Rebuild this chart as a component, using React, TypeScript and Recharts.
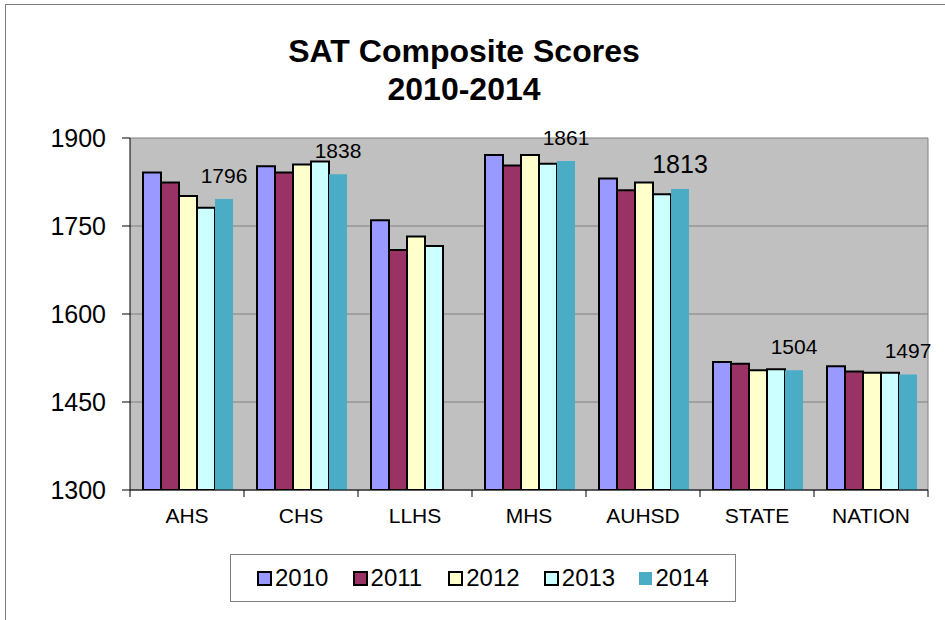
import { BarChart, Bar, XAxis, YAxis, CartesianGrid, Legend, LabelList } from 'recharts'

const schools = ['AHS', 'CHS', 'LLHS', 'MHS', 'AUHSD', 'STATE', 'NATION']
const years = ['2010', '2011', '2012', '2013', '2014']
const scores2010 = [1841, 1852, 1760, 1871, 1831, 1518, 1511]
const scores2011 = [1824, 1841, 1709, 1853, 1811, 1515, 1502]
const scores2012 = [1801, 1855, 1732, 1871, 1824, 1504, 1500]
const scores2013 = [1781, 1860, 1716, 1856, 1804, 1506, 1500]
const scores2014 = [1796, 1838, null, 1861, 1813, 1504, 1497]
const yTicks = [1300, 1450, 1600, 1750, 1900]

const FONT = "Arial, 'Liberation Sans', sans-serif"
const W = 945
const H = 620
const PLOT_LEFT = 130
const PLOT_RIGHT = 928

const seriesValues = [scores2010, scores2011, scores2012, scores2013, scores2014]
const seriesColors = ['#9999FF', '#993366', '#FFFFCC', '#CCFFFF', '#4BACC6']
// 2014 bars have no black outline in the original
const seriesOutlined = [true, true, true, true, false]

const data = schools.map((school, i) => {
  const row: Record<string, string | number | null> = { school }
  years.forEach((y, s) => {
    row[y] = seriesValues[s][i]
  })
  return row
})

const bandWidth = (PLOT_RIGHT - PLOT_LEFT) / schools.length

function SchoolTick(props: any) {
  const { x, y, payload, index } = props
  const left = x - bandWidth / 2
  return (
    <g>
      <line x1={left} x2={left} y1={y} y2={y + 7} stroke="#000" />
      {index === schools.length - 1 && (
        <line x1={x + bandWidth / 2} x2={x + bandWidth / 2} y1={y} y2={y + 7} stroke="#000" />
      )}
      <text x={x} y={y + 33} textAnchor="middle" fontSize={21} fontFamily={FONT} fill="#000">
        {payload.value}
      </text>
    </g>
  )
}

function ScoreLabel(props: any) {
  const { x, y, width, value } = props
  if (value == null) return null
  const cx = Number(x) + Number(width) / 2
  // which school this bar belongs to (null bars are skipped, so index is unreliable)
  const school = schools[Math.floor((cx - PLOT_LEFT) / bandWidth)]
  const big = school === 'AUHSD'
  return (
    <text
      x={cx}
      y={Number(y) - 16}
      textAnchor="middle"
      fontSize={big ? 25 : 21}
      fontFamily={FONT}
      fill="#000"
    >
      {value}
    </text>
  )
}

function YearLegend() {
  return (
    <div
      style={{
        width: '100%',
        height: '100%',
        boxSizing: 'border-box',
        border: '1px solid #808080',
        display: 'flex',
        alignItems: 'center',
        paddingLeft: 26,
        fontFamily: FONT,
        fontSize: 24,
        color: '#000',
      }}
    >
      {years.map((y, s) => (
        <div key={y} style={{ width: 97, display: 'flex', alignItems: 'center' }}>
          <span
            style={{
              display: 'inline-block',
              width: seriesOutlined[s] ? 11 : 13,
              height: seriesOutlined[s] ? 11 : 13,
              background: seriesColors[s],
              border: seriesOutlined[s] ? '2px solid #000' : 'none',
              marginRight: 3,
            }}
          />
          <span style={{ lineHeight: '24px' }}>{y}</span>
        </div>
      ))}
    </div>
  )
}

export default function App() {
  return (
    <div style={{ position: 'absolute', left: 0, top: 0, width: W, height: H, background: '#fff', overflow: 'hidden' }}>
      <div
        style={{
          position: 'absolute',
          left: 5,
          top: 4,
          width: W,
          height: H,
          borderLeft: '1px solid #808080',
          borderTop: '1px solid #808080',
        }}
      />
      <BarChart
        width={W}
        height={H}
        data={data}
        margin={{ top: 138, right: W - PLOT_RIGHT, bottom: 90, left: 30 }}
        barCategoryGap={13}
        barGap={0}
        style={{ position: 'absolute', left: 0, top: 0 }}
      >
        <CartesianGrid
          stroke="#808080"
          fill="#C0C0C0"
          fillOpacity={1}
          vertical={true}
          verticalPoints={[PLOT_RIGHT]}
        />
        <XAxis
          dataKey="school"
          height={40}
          interval={0}
          tickLine={false}
          tickSize={0}
          tickMargin={0}
          axisLine={{ stroke: '#000' }}
          tick={<SchoolTick />}
        />
        <YAxis
          width={100}
          domain={[1300, 1900]}
          ticks={yTicks}
          allowDataOverflow
          tickSize={8}
          tickMargin={16}
          axisLine={{ stroke: '#000' }}
          tickLine={{ stroke: '#000' }}
          tick={{ fontSize: 25, fill: '#000', fontFamily: FONT }}
        />
        <Legend
          layout="horizontal"
          verticalAlign="middle"
          align="center"
          wrapperStyle={{ left: 230, top: 554, width: 506, height: 48 }}
          content={<YearLegend />}
        />
        {years.map((y, s) => (
          <Bar
            key={y}
            dataKey={y}
            name={y}
            fill={seriesColors[s]}
            stroke={seriesOutlined[s] ? '#000' : 'none'}
            strokeWidth={2}
            isAnimationActive={false}
          >
            {y === '2014' && <LabelList dataKey={y} content={<ScoreLabel />} />}
          </Bar>
        ))}
      </BarChart>
      <svg width={W} height={120} style={{ position: 'absolute', left: 0, top: 0, pointerEvents: 'none' }}>
        <text x={464} y={62} textAnchor="middle" fontSize={32} fontWeight="bold" fontFamily={FONT} fill="#000">
          SAT Composite Scores
        </text>
        <text x={464} y={100} textAnchor="middle" fontSize={32} fontWeight="bold" fontFamily={FONT} fill="#000">
          2010-2014
        </text>
      </svg>
    </div>
  )
}
